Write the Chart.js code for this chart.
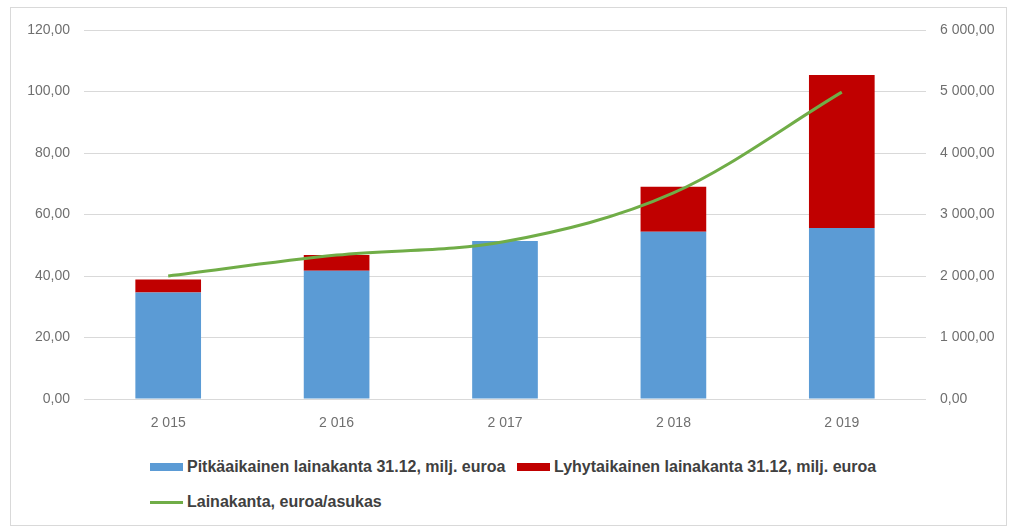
<!DOCTYPE html>
<html>
<head>
<meta charset="utf-8">
<script src="https://cdn.jsdelivr.net/npm/chart.js@4/dist/chart.umd.min.js"></script>
<style>
    body { margin: 0; background: #fff; }
    #wrap { position: relative; width: 1016px; height: 530px; overflow: hidden; }
    #frame { position: absolute; left: 10px; top: 7px; width: 997px; height: 519px; border: 1px solid #d9d9d9; box-sizing: border-box; }
    #chartBox { position: absolute; left: 0; top: 0; width: 1016px; height: 440px; }
    .item { position: absolute; height: 18px; white-space: nowrap; }
    .swatch { position: absolute; left: 0; top: 5px; width: 33px; height: 8px; }
    .lineSwatch { position: absolute; left: 0; top: 8px; width: 33px; height: 3px; background: #70ad47; }
    .text { position: absolute; left: 37px; top: 0; font-family: "Liberation Sans", sans-serif; font-weight: bold; font-size: 16px; line-height: 18px; color: #404040; }
</style>
</head>
<body>
<div id="wrap">
    <div id="frame"></div>
    <div id="chartBox"><canvas id="loanChart"></canvas></div>
    <div id="legend"></div>
</div>
<script>
const years = ["2 015", "2 016", "2 017", "2 018", "2 019"];
const longTermLoans = [34.6, 41.7, 51.4, 54.4, 55.6];
const shortTermLoans = [4.3, 5.1, 0, 14.6, 49.8];
const loansPerResident = [2000, 2340, 2560, 3350, 4990];
const leftTicks = [0, 20, 40, 60, 80, 100, 120];
const rightTicks = [0, 1000, 2000, 3000, 4000, 5000, 6000];

const labelNames = [
    "Pitkäaikainen lainakanta 31.12, milj. euroa",
    "Lyhytaikainen lainakanta 31.12, milj. euroa",
    "Lainakanta, euroa/asukas",
];
const colors = ["#5b9bd5", "#c00000", "#70ad47"];

const fiFormat = (value) => {
    const parts = value.toFixed(2).split(".");
    const whole = parts[0].replace(/\B(?=(\d{3})+(?!\d))/g, " ");
    return whole + "," + parts[1];
};

const tickFont = { family: "'Liberation Sans', sans-serif", size: 14 };
const tickColor = "#6f6f6f";

new Chart(document.querySelector("#loanChart"), {
    data: {
        labels: years,
        datasets: [
            {
                type: "line",
                label: labelNames[2],
                data: loansPerResident,
                yAxisID: "y1",
                borderColor: colors[2],
                borderWidth: 3,
                pointRadius: 0,
                cubicInterpolationMode: "monotone",
                order: 0,
            },
            {
                type: "bar",
                label: labelNames[0],
                data: longTermLoans,
                backgroundColor: colors[0],
                barPercentage: 0.39,
                categoryPercentage: 1,
                order: 1,
            },
            {
                type: "bar",
                label: labelNames[1],
                data: shortTermLoans,
                backgroundColor: colors[1],
                barPercentage: 0.39,
                categoryPercentage: 1,
                order: 1,
            },
        ],
    },
    options: {
        responsive: true,
        maintainAspectRatio: false,
        animation: false,
        layout: { padding: { top: 30, left: 0, right: 0, bottom: 0 } },
        scales: {
            x: {
                stacked: true,
                grid: { display: false },
                border: { display: false },
                ticks: { color: tickColor, font: tickFont, padding: 8 },
                afterFit: (scale) => { scale.height = 41; },
            },
            y: {
                stacked: true,
                min: 0,
                max: 120,
                afterBuildTicks: (scale) => { scale.ticks = leftTicks.map((v) => ({ value: v })); },
                grid: { color: "#d9d9d9", lineWidth: 1, drawTicks: false },
                border: { display: false },
                ticks: { color: tickColor, font: tickFont, padding: 14, callback: (v) => fiFormat(v) },
                afterFit: (scale) => { scale.width = 84; },
            },
            y1: {
                position: "right",
                min: 0,
                max: 6000,
                afterBuildTicks: (scale) => { scale.ticks = rightTicks.map((v) => ({ value: v })); },
                grid: { drawOnChartArea: false, drawTicks: false },
                border: { display: false },
                ticks: { color: tickColor, font: tickFont, padding: 14, callback: (v) => fiFormat(v) },
                afterFit: (scale) => { scale.width = 90; },
            },
        },
        plugins: {
            legend: { display: false },
            tooltip: { enabled: false },
        },
    },
});

// legend placed like the original: two bar keys on one row, the line key below
const legendSpots = [
    { left: 150, top: 458 },
    { left: 517, top: 458 },
    { left: 150, top: 493 },
];
const legend = document.querySelector("#legend");
labelNames.forEach((name, i) => {
    const key = i < 2
        ? `<span class="swatch" style="background:${colors[i]}"></span>`
        : `<span class="lineSwatch"></span>`;
    legend.innerHTML += `<div class="item" style="left:${legendSpots[i].left}px;top:${legendSpots[i].top}px">${key}<span class="text">${name}</span></div>`;
});
</script>
</body>
</html>
